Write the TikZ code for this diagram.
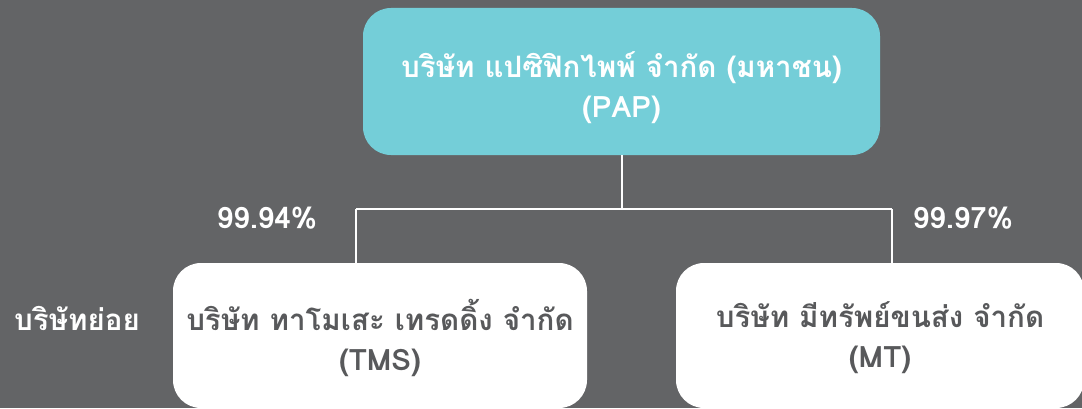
\documentclass[tikz,border=0pt]{standalone}
\usepackage{fontspec}
\setmainfont[Script=Thai]{Loma}
\definecolor{bg}{HTML}{636466}
\definecolor{cyanbox}{HTML}{74CED8}
\definecolor{darktext}{HTML}{58595B}
\tikzset{
  box/.style={rounded corners=28pt, inner sep=0pt},
  topbox/.style={box, fill=cyanbox},
  subbox/.style={box, fill=white},
  boxtext/.style={align=center, inner sep=0pt, font=\fontsize{29.5}{40}\selectfont\bfseries},
  pct/.style={text=white, font=\fontsize{29.5}{36}\selectfont\bfseries},
  conn/.style={draw=white, line width=2pt}
}
\begin{document}
\begin{tikzpicture}[x=1pt,y=1pt]
\fill[bg] (0,0) rectangle (1082,408);
\useasboundingbox (0,0) rectangle (1082,408);
\node[topbox, minimum width=517pt, minimum height=147pt] (pap) at (621.5,326.5) {};
\node[subbox, minimum width=414pt, minimum height=145pt] (tms) at (380,72.5) {};
\node[subbox, minimum width=408pt, minimum height=145pt] (mt) at (880,72.5) {};
\node[boxtext, text=white] (paptext) at ([yshift=-6pt]pap.center)
  {บริษัท แปซิฟิกไพพ์ จำกัด (มหาชน)\\(PAP)};
\node[boxtext, text=darktext] (tmstext) at ([yshift=-2pt]tms.center)
  {บริษัท ทาโมเสะ เทรดดิ้ง จำกัด\\(TMS)};
\node[boxtext, text=darktext] (mttext) at ([yshift=-2pt]mt.center)
  {บริษัท มีทรัพย์ขนส่ง จำกัด\\(MT)};
\coordinate (ja) at (356,199);
\coordinate (jb) at (892,199);
\draw[conn] (pap.south) -- (pap.south |- ja);
\draw[conn] (ja) -- (jb);
\draw[conn] (ja) -- (ja |- tms.north);
\draw[conn] (jb) -- (jb |- mt.north);
\node[pct] (p1) at (267,190) {99.94\%};
\node[pct] (p2) at (963,190) {99.97\%};
\node[pct] (sub) at (77,90) {บริษัทย่อย};
\end{tikzpicture}
\end{document}
